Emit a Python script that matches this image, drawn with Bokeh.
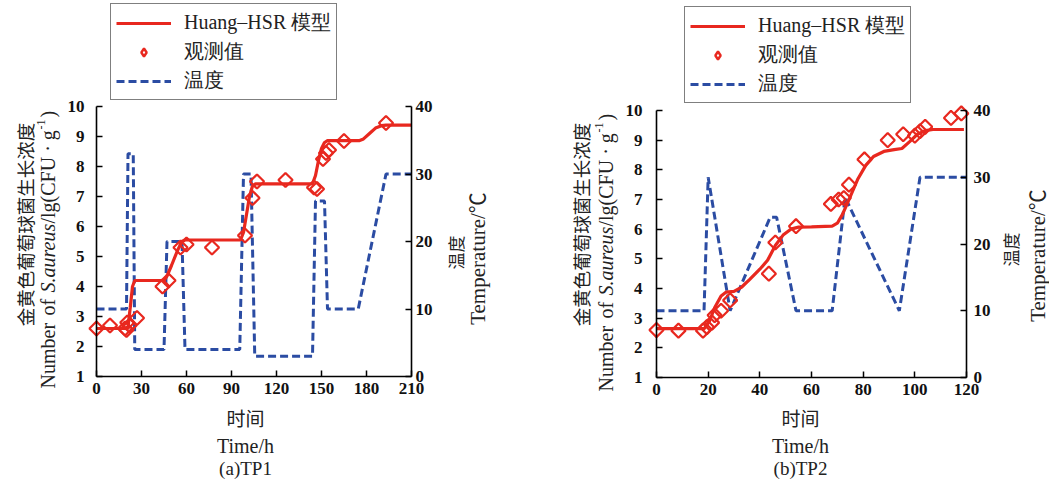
import math
from bokeh.plotting import figure
from bokeh.models import Range1d, LinearAxis, Label, Legend, LegendItem, FixedTicker
from bokeh.layouts import row
from bokeh.embed import file_html
from bokeh.resources import INLINE

# ---------------- data ----------------
# TP1
tp1_temp_t = [0, 20, 21, 24.5, 25.5, 45, 47, 57, 59, 95.5, 98, 103, 105.5, 144, 146, 152, 154, 174.5, 193, 210]
tp1_temp = [10, 10, 33, 33, 4, 4, 20, 20, 4, 4, 30, 30, 3, 3, 26, 26, 10, 10, 30, 30]
tp1_model_t = [0, 19, 21, 22.5, 24, 25.5, 45, 47, 50, 54, 57, 59, 96, 98, 100, 102, 104, 106,
               144, 146, 148, 150, 152, 154, 175, 178, 182, 186, 190, 193, 210]
tp1_model = [2.6, 2.6, 2.65, 3.3, 4.0, 4.2, 4.2, 4.35, 4.7, 5.2, 5.5, 5.55, 5.55, 5.8, 6.4, 7.0, 7.35, 7.42,
             7.42, 7.7, 8.2, 8.6, 8.8, 8.86, 8.86, 8.92, 9.1, 9.28, 9.36, 9.38, 9.38]
tp1_obs_t = [0, 9, 19, 20, 20.5, 22, 27, 44, 48, 56, 60, 77, 99, 104, 107, 126, 145, 147, 151, 153, 155, 165, 193]
tp1_obs = [2.6, 2.7, 2.6, 2.55, 2.8, 2.7, 2.95, 4.0, 4.2, 5.3, 5.4, 5.3, 5.7, 6.95, 7.5, 7.55, 7.3, 7.25,
           8.25, 8.45, 8.55, 8.85, 9.45]

# TP2
tp2_temp_t = [0, 18.4, 20, 28.5, 44, 46.5, 54, 68, 73, 94, 102, 120]
tp2_temp = [10, 10, 30, 10, 24, 24, 10, 10, 27, 10, 30, 30]
tp2_model_t = [0, 18.5, 20.5, 22.5, 25, 27, 30, 33, 36, 40, 43, 46, 49, 52, 55, 60, 68, 70, 72, 75, 78,
               81, 84, 88, 92, 95, 98, 101, 104, 107, 119]
tp2_model = [2.65, 2.65, 2.9, 3.35, 3.75, 3.88, 3.9, 4.05, 4.3, 4.65, 4.95, 5.45, 5.8, 6.0, 6.07, 6.08,
             6.1, 6.2, 6.5, 7.1, 7.7, 8.15, 8.45, 8.62, 8.68, 8.72, 8.95, 9.2, 9.32, 9.36, 9.36]
tp2_obs_t = [0, 8.5, 18, 19.5, 21.5, 22.5, 25, 28.5, 43.5, 46, 54, 67.5, 70.5, 72.5, 74.5, 80.5, 89.5,
             95.5, 100, 102, 104, 114, 118]
tp2_obs = [2.6, 2.58, 2.58, 2.7, 2.85, 3.1, 3.25, 3.6, 4.5, 5.55, 6.1, 6.85, 7.0, 7.05, 7.5, 8.35, 9.0,
           9.2, 9.15, 9.3, 9.45, 9.75, 9.9]

tp1_xticks = [0, 30, 60, 90, 120, 150, 180, 210]
tp2_xticks = [0, 20, 40, 60, 80, 100, 120]
y_ticks = [1, 2, 3, 4, 5, 6, 7, 8, 9, 10]
temp_ticks = [0, 10, 20, 30, 40]

legend_labels = ["Huang\u2013HSR 模型", "观测值", "温度"]
y_title_cn = "金黄色葡萄球菌生长浓度"
temp_title_cn = "温度"
temp_title_en = "Temperature/\u2103"
x_title_cn = "时间"
x_title_en = "Time/h"
captions = ["(a)TP1", "(b)TP2"]

RED = "#e8281f"
BLUE = "#2b4ca3"
TXT = "#222222"
SERIF = "Liberation Serif"
CJK = "Noto Sans CJK SC"
MIX = "Liberation Serif, Noto Sans CJK SC"

H = 480  # figure height (px)


def lab(p, text, x, y, size, font=SERIF, style="normal", angle=0.0, align="center",
        baseline="middle"):
    p.add_layout(Label(x=x, y=y, x_units="screen", y_units="screen", text=text,
                       text_font=font, text_font_size=f"{size}px", text_font_style=style,
                       angle=angle, text_align=align, text_baseline=baseline, text_color=TXT))


def panel(xmax, xticks, temp_t, temp, model_t, model, obs_t, obs, caption,
          W, x0, f_left, f_right, f_top, f_bottom, lstand, rstand,
          cn_x, en_x, en_shift, r_cn_x, r_cn_y, r_en_x, r_en_y, bx, leg_xy):
    # the frame fills the whole figure; ranges are set so that the plotting box
    # [f_left, f_right] x [f_top, f_bottom] (page pixels) holds the data
    xs = (f_right - f_left) / xmax
    ys = (f_bottom - f_top) / 9.0
    ts = (f_bottom - f_top) / 40.0
    xr = Range1d((x0 - f_left) / xs, (x0 + W - f_left) / xs)
    yr = Range1d(1 - (H - f_bottom) / ys, 10 + f_top / ys)
    tr = Range1d(-(H - f_bottom) / ts, 40 + f_top / ts)

    p = figure(frame_width=W, frame_height=H, min_border=0, min_border_left=0,
               min_border_right=0, min_border_top=0, min_border_bottom=0,
               output_backend="svg", toolbar_location=None, x_range=xr, y_range=yr,
               x_axis_type=None, y_axis_type=None)
    p.extra_y_ranges = {"temp": tr}
    p.outline_line_color = None
    p.background_fill_color = "white"
    p.border_fill_color = "white"

    r_temp = p.line(temp_t, temp, y_range_name="temp", line_color=BLUE, line_width=3,
                    line_dash="8 4")
    r_model = p.line(model_t, model, line_color=RED, line_width=3.2)
    p.scatter(obs_t, obs, marker="square", angle=math.pi / 4, size=10,
              line_color=RED, line_width=2.2, fill_color=None)
    # legend swatch for the observations (legend glyphs are drawn unrotated),
    # hidden in the plot itself
    r_obs_key = p.scatter(obs_t, obs, marker="diamond", size=15, line_color=RED,
                          line_width=2.4, fill_color=None, visible=False)

    ax_b = LinearAxis(fixed_location=1, bounds=(0, xmax), ticker=FixedTicker(ticks=xticks))
    ax_l = LinearAxis(fixed_location=0, bounds=(1, 10), ticker=FixedTicker(ticks=y_ticks))
    ax_r = LinearAxis(y_range_name="temp", fixed_location=xmax, bounds=(0, 40),
                      ticker=FixedTicker(ticks=temp_ticks))
    p.add_layout(ax_b, "below")
    p.add_layout(ax_l, "left")
    p.add_layout(ax_r, "right")
    for ax in [ax_b, ax_l, ax_r]:
        ax.axis_line_width = 1.6
        ax.axis_line_color = "black"
        ax.major_tick_in = 6
        ax.major_tick_out = 0
        ax.major_tick_line_width = 1.5
        ax.minor_tick_line_color = None
        ax.major_label_text_font = SERIF
        ax.major_label_text_font_style = "bold"
        ax.major_label_text_font_size = "17px"
        ax.major_label_text_color = "#111111"
    ax_b.major_label_standoff = 6
    ax_l.major_label_standoff = lstand
    ax_r.major_label_standoff = rstand

    def S(px, py):
        return px - x0, H - py

    # left titles
    x, y = S(cn_x, 224)
    lab(p, y_title_cn, x, y, 18.5, font=CJK, angle=math.pi / 2)
    pieces = [("Number", 20, "normal", 388, 0),
              ("of", 20, "normal", 315, 0),
              ("S.aureus", 20, "italic", 292, 0),
              ("/lg(CFU \u00b7 g", 20, "normal", 223, 0),
              ("-1", 12, "normal", 129, -7),
              (")", 20, "normal", 117, 0)]
    for txt, sz, st, start, dx in pieces:
        x, y = S(en_x + dx, start + en_shift)
        lab(p, txt, x, y, sz, style=st, angle=math.pi / 2, align="left")
    # right titles
    x, y = S(r_cn_x, r_cn_y)
    lab(p, temp_title_cn, x, y, 17, font=CJK, angle=math.pi / 2)
    x, y = S(r_en_x, r_en_y)
    lab(p, temp_title_en, x, y, 21, font=MIX, angle=math.pi / 2)
    # bottom titles
    x, y = S(bx, 417)
    lab(p, x_title_cn, x, y, 19, font=CJK)
    x, y = S(bx, 445)
    lab(p, x_title_en, x, y, 20)
    x, y = S(bx, 468)
    lab(p, caption, x, y, 19)

    legend = Legend(items=[LegendItem(label=legend_labels[0], renderers=[r_model]),
                           LegendItem(label=legend_labels[1], renderers=[r_obs_key]),
                           LegendItem(label=legend_labels[2], renderers=[r_temp])],
                    location=(leg_xy[0] - x0, H - leg_xy[1]), orientation="vertical")
    legend.label_text_font = SERIF
    legend.label_text_font_size = "20px"
    legend.label_text_color = TXT
    legend.glyph_width = 55
    legend.glyph_height = 20
    legend.label_height = 22
    legend.label_standoff = 13
    legend.spacing = 2
    legend.padding = 5
    legend.margin = 0
    legend.inactive_fill_alpha = 0.0
    legend.border_line_color = "black"
    legend.border_line_width = 1.5
    legend.background_fill_color = "white"
    legend.background_fill_alpha = 1.0
    p.add_layout(legend, "center")
    return p


p1 = panel(210, tp1_xticks, tp1_temp_t, tp1_temp, tp1_model_t, tp1_model, tp1_obs_t, tp1_obs,
           captions[0], W=524, x0=0, f_left=96, f_right=411, f_top=106, f_bottom=376,
           lstand=12, rstand=4, cn_x=24, en_x=47, en_shift=0,
           r_cn_x=455, r_cn_y=252, r_en_x=477, r_en_y=258, bx=245, leg_xy=(110, 100))
p2 = panel(120, tp2_xticks, tp2_temp_t, tp2_temp, tp2_model_t, tp2_model, tp2_obs_t, tp2_obs,
           captions[1], W=525, x0=524, f_left=656, f_right=966, f_top=110, f_bottom=377,
           lstand=14, rstand=7, cn_x=580, en_x=605, en_shift=3,
           r_cn_x=1010, r_cn_y=249, r_en_x=1037, r_en_y=255, bx=800, leg_xy=(684, 103))

layout = row(p1, p2)
open("out.html", "w").write(file_html(layout, INLINE))
